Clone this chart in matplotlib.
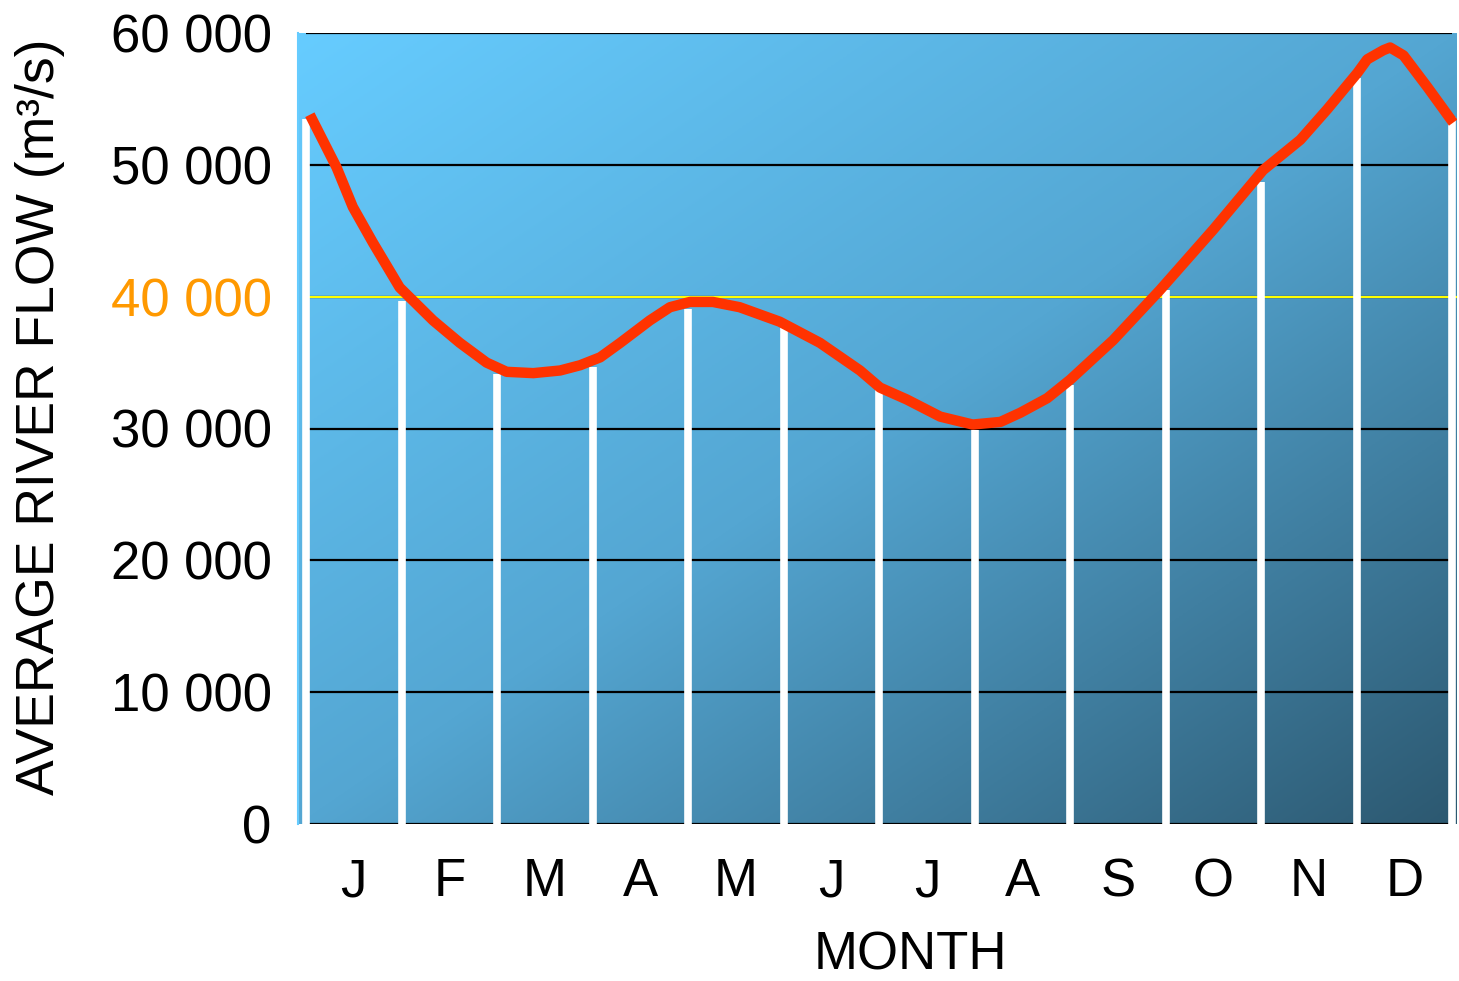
import matplotlib
matplotlib.use("Agg")
import matplotlib.pyplot as plt
import numpy as np

# month positions (0 = start of Jan, 12 = end of Dec) and flow along the curve
curve_x = [0.04, 0.32, 0.49, 0.70, 0.98, 1.33, 1.61, 1.89, 2.10, 2.38, 2.66, 2.87,
           3.08, 3.29, 3.60, 3.81, 4.02, 4.26, 4.54, 4.96, 5.38, 5.80, 6.01, 6.29,
           6.64, 6.98, 7.27, 7.48, 7.76, 8.00, 8.45, 8.94, 9.50, 10.02, 10.41,
           10.69, 11.01, 11.11, 11.28, 11.35, 11.49, 11.74, 12.01]
curve_flow = [53800, 49800, 46800, 44100, 40700, 38200, 36500, 35000, 34300, 34200,
              34400, 34800, 35400, 36500, 38200, 39200, 39600, 39600, 39200, 38100,
              36500, 34400, 33100, 32200, 30900, 30300, 30500, 31200, 32300, 33700,
              36700, 40500, 45100, 49600, 51900, 54200, 57000, 58000, 58700, 58900,
              58300, 55900, 53200]

# white drop lines at month boundaries
bound_x = list(range(13))
bound_flow = [53500, 39700, 34100, 34700, 39100, 37700, 33100, 29900, 33300,
              40500, 48700, 56600, 53600]

months = ["J", "F", "M", "A", "M", "J", "J", "A", "S", "O", "N", "D"]
yticks = [0, 10000, 20000, 30000, 40000, 50000, 60000]
threshold = 40000

plt.rcParams['font.family'] = ['Liberation Sans', 'DejaVu Sans']

fig = plt.figure(figsize=(14.59, 9.81), dpi=100)
ax = fig.add_axes([298 / 1459, 1 - 824 / 981, 1159 / 1459, 791 / 981])

xmin, xmax = -0.084, 12.05
ax.set_xlim(xmin, xmax)
ax.set_ylim(0, 60000)

# diagonal gradient background, three colour stops
n = 300
gx, gy = np.meshgrid(np.linspace(0, 1, n), np.linspace(0, 1, n))
t = (gx + gy) / 2
stops = [0.0, 0.5, 1.0]
cols = np.array([[102, 204, 255], [84, 166, 210], [44, 88, 112]]) / 255
img = np.stack([np.interp(t, stops, cols[:, k]) for k in range(3)], axis=-1)
ax.imshow(img, extent=[xmin, xmax, 0, 60000], aspect='auto', origin='upper', zorder=0)

for y in yticks:
    ax.hlines(y, 0, 12, color='black', lw=1.6, zorder=1)
ax.hlines(threshold, 0, xmax, color='#ffff00', lw=1.5, zorder=2)

ax.vlines(bound_x, 0, bound_flow, color='white', lw=5.5, zorder=3)
ax.plot(curve_x, curve_flow, color='#ff3300', lw=7.5, solid_capstyle='butt',
        solid_joinstyle='round', zorder=4)

for s in ax.spines.values():
    s.set_visible(False)
ax.spines['left'].set_visible(True)
ax.spines['left'].set_color('#66ccff')
ax.spines['left'].set_linewidth(1.5)

ax.set_yticks(yticks)
ax.set_yticklabels([f"{v:,}".replace(",", " ") for v in yticks], fontsize=38)
ax.get_yticklabels()[yticks.index(threshold)].set_color('#ff9900')
ax.tick_params(axis='y', length=0, pad=19)

ax.set_xticks(np.arange(12) + 0.5)
ax.set_xticklabels(months, fontsize=38)
ax.tick_params(axis='x', length=0, pad=24)

fig.text(910 / 1459, 1 - 955 / 981, "MONTH", fontsize=38, ha='center', va='center')
fig.text(40 / 1459, 1 - 417 / 981, "AVERAGE RIVER FLOW (m³/s)", fontsize=38.5,
         rotation=90, ha='center', va='center')

fig.savefig("out.png", dpi=100)
